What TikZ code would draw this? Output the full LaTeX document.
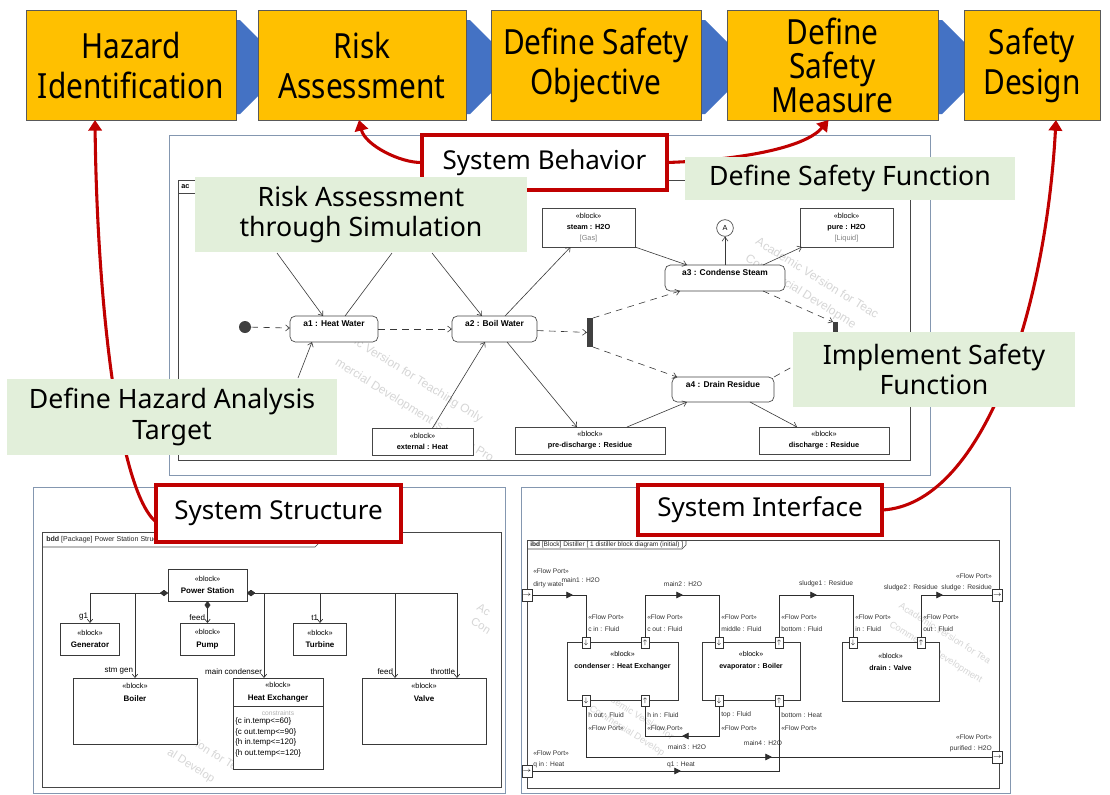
\documentclass[tikz,border=0pt]{standalone}
\usepackage{fontspec}
\setmainfont{Noto Sans}
\newfontfamily\topfont[FakeStretch=0.86]{Noto Sans}
\newfontfamily\umlf{Liberation Sans}
\usetikzlibrary{arrows.meta,decorations.markings,calc}
\definecolor{gold}{HTML}{FFC000}
\definecolor{chev}{HTML}{4472C4}
\definecolor{lgreen}{HTML}{E2EFDA}
\definecolor{dred}{HTML}{C00000}
\definecolor{slate}{HTML}{8497B0}
\tikzset{
 sz/.style 2 args={minimum width=#1*0.75pt, minimum height=#2*0.75pt, inner sep=0pt, outer sep=0pt},
 topbox/.style={draw=gray!70!black, line width=0.6pt, fill=gold, align=center, font=\topfont\fontsize{26}{30}\selectfont},
 greenbox/.style={fill=lgreen, draw=none, align=center, font=\fontsize{20}{23}\selectfont},
 redbox/.style={draw=dred, line width=2.3pt, fill=white, font=\fontsize{19.5}{23}\selectfont},
 redarrow/.style={draw=dred, line width=2.3pt, -{Triangle[length=8pt,width=10pt]}},
 panel/.style={draw=slate, line width=0.6pt},
 uframe/.style={draw=gray!55!black, line width=0.5pt},
 wm/.style={font=\umlf\fontsize{#1}{#1}\selectfont, text=black!16, rotate=-32, anchor=west, inner sep=0pt},
 wm/.default=9,
 tabtxt/.style={font=\umlf\fontsize{5.3}{6}\selectfont, inner sep=0pt, text=black!85},
 act/.style={draw=gray!55!black, line width=0.5pt, rounded corners=4pt, fill=white},
 atxt/.style={font=\umlf\bfseries\fontsize{6.3}{7}\selectfont, inner sep=0pt},
 ablk/.style={draw=gray!55!black, line width=0.5pt, fill=white, align=center, font=\umlf\fontsize{5.5}{8.4}\selectfont},
 initn/.style={circle, fill=black!75, minimum size=9pt, inner sep=0pt},
 forkbar/.style={fill=black!75, draw=none},
 sflow/.style={draw=gray!45!black, line width=0.45pt, -{Straight Barb[length=3pt,width=4.5pt]}},
 cflow/.style={sflow, dash pattern=on 5pt off 4pt},
 sline/.style={draw=gray!45!black, line width=0.45pt},
 bblk/.style={draw=gray!45!black, line width=0.5pt, fill=white, align=center, font=\umlf\fontsize{5.5}{9.5}\selectfont},
 btxt/.style={align=center, font=\umlf\fontsize{5.5}{9.5}\selectfont, inner sep=0pt},
 bl/.style={font=\umlf\fontsize{6}{7}\selectfont, inner sep=0.5pt},
 comp/.style={draw=gray!40!black, line width=0.5pt, {Diamond[length=6pt,width=4.5pt]}-{Straight Barb[length=2.5pt,width=4pt]}},
 iblk/.style={draw=gray!45!black, line width=0.6pt, fill=white},
 itxt/.style={align=center, font=\umlf\fontsize{5.3}{9}\selectfont, inner sep=0pt},
 port/.style={draw=gray!40!black, line width=0.5pt, fill=white, sz={8}{11}, font=\fontsize{5}{5}\selectfont},
 bport/.style={draw=gray!40!black, line width=0.5pt, fill=white, sz={10}{12}, font=\fontsize{5}{5}\selectfont},
 iline/.style={draw=gray!35!black, line width=0.6pt},
 ilab/.style={font=\umlf\fontsize{5}{6}\selectfont, inner sep=0pt, text=black!80},
 midarr/.style={postaction={decorate,decoration={markings,mark=at position #1 with {\arrow{Triangle[length=5pt,width=5pt]}}}}}
}
\begin{document}
\begin{tikzpicture}[x=0.75pt,y=-0.75pt]
\useasboundingbox[fill=white] (0,0) rectangle (1110,794);

% ---------- process chain ----------
\foreach \R in {236,466,701,938} {
  \fill[chev] (\R-3,20) -- (\R+4,20) -- (\R+51,67) -- (\R+4,114) -- (\R-3,114) -- cycle;
}
\node[topbox, sz={210}{110}] (hz) at (131,65) {Hazard\\Identification};
\node[topbox, sz={208}{110}] (ra) at (362,65) {Risk\\Assessment};
\node[topbox, sz={210}{110}] (dso) at (596,65) {Define Safety\\Objective};
\node[topbox, sz={211}{110}, font=\topfont\fontsize{26}{25.5}\selectfont] (dsm) at (832.5,65) {Define\\Safety\\Measure};
\node[topbox, sz={136}{110}] (sd) at (1032,65) {Safety\\Design};

% ---------- activity diagram ----------
\node[wm] (wm1a) at (355,341) {ic Version for Teaching Only};
\node[wm] (wm1b) at (336,362) {mercial Development is strictly Pro};
\node[wm] (wm2a) at (757,240) {Academic Version for Teac};
\node[wm] (wm2b) at (746,258) {Commercial Developme};
\draw[panel] (169,135) rectangle (930,475);
\draw[uframe] (178,180) rectangle (910,460);
\draw[uframe] (178,193) -- (300,193);
\node[anchor=west, font=\umlf\bfseries\fontsize{5.5}{6}\selectfont, inner sep=0pt] (acttab) at (181,186.5) {ac};

\node[initn] (init) at (245,327) {};
\node[act, sz={88}{26}] (a1) at (334,329) {};
\node[atxt, anchor=north] (a1t) at ($(a1.north)+(0,4)$) {a1 : Heat Water};
\node[act, sz={85}{26}] (a2) at (494.5,329) {};
\node[atxt, anchor=north] (a2t) at ($(a2.north)+(0,4)$) {a2 : Boil Water};
\node[forkbar, sz={6}{29}] (fork) at (590,332.5) {};
\node[act, sz={120}{26}] (a3) at (725,278) {};
\node[atxt, anchor=north] (a3t) at ($(a3.north)+(0,4)$) {a3 : Condense Steam};
\node[act, sz={102}{25}] (a4) at (723,389.5) {};
\node[atxt, anchor=north] (a4t) at ($(a4.north)+(0,4)$) {a4 : Drain Residue};
\node[forkbar, sz={5}{22}] (join) at (835.5,333) {};
\node[ablk, sz={93}{39}] (steam) at (588.5,227.5) {«block»\\\textbf{steam : H2O}\\{\color{gray}[Gas]}};
\node[circle, draw=gray!55!black, line width=0.5pt, fill=white, minimum size=12.5pt, inner sep=0pt, font=\umlf\fontsize{5.5}{6}\selectfont] (Acirc) at (725,228) {A};
\node[ablk, sz={93}{39}] (pure) at (846.5,227.5) {«block»\\\textbf{pure : H2O}\\{\color{gray}[Liquid]}};
\node[ablk, sz={101}{27}] (ext) at (422.5,441.5) {«block»\\\textbf{external : Heat}};
\node[ablk, sz={150}{27}] (pre) at (590,440.5) {«block»\\\textbf{pre-discharge : Residue}};
\node[ablk, sz={130}{27}] (dis) at (824,440.5) {«block»\\\textbf{discharge : Residue}};

\coordinate (h1) at (277,253);
\coordinate (h2) at (392,253);
\coordinate (h3) at (432,253);
\coordinate (h4) at (298,378);

\draw[cflow] (init) -- (a1);
\draw[cflow] (a1) -- (a2);
\draw[cflow] (a2) -- (fork);
\draw[cflow] (fork.north east) -- ($(a3.south west)+(15,0)$);
\draw[cflow] (fork.south east) -- ($(a4.north west)+(5,0)$);
\draw[cflow] ($(a3.south east)+(-22,0)$) -- (join.north west);
\draw[cflow] (a4.north east) -- (join.south west);

\draw[sflow] (h1) -- ($(a1.north)+(-11,0)$);
\draw[sline] ($(a1.north)+(11,0)$) -- (h2);
\draw[sflow] (h3) -- ($(a2.north)+(-12.5,0)$);
\draw[sflow] (h4) -- ($(a1.south)+(-22,0)$);
\draw[sflow] ($(ext.north)+(10,0)$) -- ($(a2.south)+(-9.5,0)$);
\draw[sflow] ($(a2.south)+(12.5,0)$) -- ($(pre.north)+(-13,0)$);
\draw[sflow] ($(a2.north)+(10.5,0)$) -- ($(steam.south)+(-18,0)$);
\draw[sflow] (steam.south east) -- ($(a3.north)+(-38,0)$);
\draw[sflow] (a3.north) -- (Acirc.south);
\draw[sflow] ($(a3.north)+(38,0)$) -- ($(pure.south west)+(2,0)$);
\draw[sflow] ($(pre.north)+(37,0)$) -- ($(a4.south)+(-36,0)$);
\draw[sflow] ($(a4.south)+(27,0)$) -- ($(dis.north)+(-27,0)$);

% ---------- bdd ----------
\node[wm=8.5] (wm3a) at (192,740) {sion for Te};
\node[wm=8.5] (wm3b) at (168,752) {al Develop};
\node[wm=8.5] (wm4a) at (478,606) {Ac};
\node[wm=8.5] (wm4b) at (472,620) {Con};
\draw[panel] (33,487) rectangle (505,793);
\draw[uframe] (42,532) rectangle (501,787);
\draw[uframe] (42,547) -- (315,547) -- (320,542) -- (320,532);
\node[anchor=west, tabtxt] (bddtab) at (46,540) {\textbf{bdd} [Package] Power Station Structure [ power station allocation of definition ]};

\node[bblk, sz={79}{32}] (PS) at (207.5,585) {«block»\\\textbf{\fontsize{6}{9.5}\selectfont Power Station}};
\node[bblk, sz={59}{32}] (Gen) at (90,639) {«block»\\\textbf{\fontsize{6}{9.5}\selectfont Generator}};
\node[bblk, sz={54}{32}] (Pump) at (207.5,639) {«block»\\\textbf{\fontsize{6}{9.5}\selectfont Pump}};
\node[bblk, sz={53}{32}] (Turb) at (320,639) {«block»\\\textbf{\fontsize{6}{9.5}\selectfont Turbine}};
\node[bblk, sz={124}{66}] (Boiler) at (135,711) {};
\node[btxt] (Boilert) at (135,692.5) {«block»\\\textbf{\fontsize{6}{9.5}\selectfont Boiler}};
\node[bblk, sz={90}{91}] (HX) at (278,723.5) {};
\node[btxt] (HXt) at (278,692.5) {«block»\\\textbf{\fontsize{6}{9.5}\selectfont Heat Exchanger}};
\draw[draw=gray!45!black, line width=0.5pt] (HX.west |- 0,706) -- (HX.east |- 0,706);
\node[font=\umlf\fontsize{5}{6}\selectfont, text=gray!60, inner sep=0pt] (HXk) at (278,713) {constraints};
\node[anchor=north west, align=left, font=\umlf\fontsize{6}{7.9}\selectfont, inner sep=0pt] (HXc) at (235,717.5) {\{c in.temp<=60\}\\\{c out.temp<=90\}\\\{h in.temp<=120\}\\\{h out.temp<=120\}};
\node[bblk, sz={124}{66}] (Valve) at (424,711) {};
\node[btxt] (Valvet) at (424,692.5) {«block»\\\textbf{\fontsize{6}{9.5}\selectfont Valve}};

\coordinate (psL) at ($(PS.south west)+(0,-8)$);
\coordinate (psR) at ($(PS.south east)+(0,-8)$);
\coordinate (hxIn) at ($(HX.north west)+(31,0)$);
\coordinate (vF) at ($(Valve.north west)+(33,0)$);
\coordinate (vT) at ($(Valve.north west)+(95,0)$);
\draw[comp] (psL) -| (Gen.north);
\draw[comp] (psL) -| (Boiler.north);
\draw[comp] (PS.south) -- (Pump.north);
\draw[comp] (psR) -| (Turb.north);
\draw[comp] (psR) -| (hxIn);
\draw[comp] (psR) -| (vF);
\draw[comp] (psR) -| (vT);
\node[bl, anchor=south east] (lg1) at (89,621) {g1};
\node[bl, anchor=south east] (lstm) at (134,675) {stm gen};
\node[bl, anchor=south east] (lfeed1) at (206,621) {feed};
\node[bl, anchor=south east] (lmc) at (263,675) {main condenser};
\node[bl, anchor=south east] (lt1) at (319,621) {t1};
\node[bl, anchor=south east] (lfeed2) at (394,675) {feed};
\node[bl, anchor=south east] (lthr) at (456,675) {throttle};

% ---------- ibd ----------
\node[wm=7] (wm5a) at (598,690) {Academic Version for};
\node[wm=7] (wm5b) at (590,708) {Commercial Develop};
\node[wm=7] (wm6a) at (900,605) {Academic Version for Tea};
\node[wm=7] (wm6b) at (890,624) {Commercial Development};
\draw[panel] (521,487) rectangle (1010,793);
\draw[uframe] (527,540) rectangle (999,788);
\draw[uframe] (527,549) -- (682,549) -- (686,545) -- (686,540);
\node[anchor=west, tabtxt, font=\umlf\fontsize{4.9}{6}\selectfont] (ibdtab) at (530,544.5) {\textbf{ibd} [Block] Distiller [ 1 distiller block diagram (initial) ]};

\node[iblk, sz={111}{58}] (cond) at (622.5,671) {};
\node[itxt] (condt) at (622.5,661) {«block»\\\textbf{condenser : Heat Exchanger}};
\node[iblk, sz={98}{58}] (evap) at (751,671) {};
\node[itxt] (evapt) at (751,661) {«block»\\\textbf{evaporator : Boiler}};
\node[iblk, sz={97}{59}] (drain) at (890.5,671.5) {};
\node[itxt] (draint) at (890.5,662) {«block»\\\textbf{drain : Valve}};

\node[port] (pCin) at (586,642.5) {$\downarrow$};
\node[port] (pCout) at (645,642.5) {$\uparrow$};
\node[port] (pHout) at (586,700.5) {$\downarrow$};
\node[port] (pHin) at (645,700.5) {$\uparrow$};
\node[port] (pMid) at (719,642.5) {$\downarrow$};
\node[port] (pBotF) at (779,642.5) {$\uparrow$};
\node[port] (pTop) at (719,700.5) {$\downarrow$};
\node[port] (pBotH) at (779,700.5) {$\uparrow$};
\node[port] (pIn) at (853,642.5) {$\downarrow$};
\node[port] (pOut) at (921,642.5) {$\uparrow$};
\node[bport] (pDirty) at (527,595) {$\rightarrow$};
\node[bport] (pQ) at (527,771) {$\rightarrow$};
\node[bport] (pSl) at (997.5,595) {$\rightarrow$};
\node[bport] (pPur) at (997.5,757) {$\rightarrow$};

\draw[iline, midarr=30.75pt] (pDirty.east) -| (pCin.north);
\draw[iline, midarr=60pt] (pCout.north) -- ++(0,-42) -| (pMid.north);
\draw[iline, midarr=60pt] (pBotF.north) -- ++(0,-42) -| (pIn.north);
\draw[iline, midarr=48pt] (pOut.north) |- (pSl.west);
\draw[iline, midarr=50.25pt] (pTop.south) -- ++(0,30) -| (pHin.south);
\draw[iline, midarr=177.75pt] (pHout.south) |- (pPur.west);
\draw[iline, midarr=111.75pt] (pQ.east) -| (pBotH.south);

\node[ilab, anchor=west] (i1) at (533,571) {«Flow Port»};
\node[ilab, anchor=west] (i2) at (533,585) {dirty water};
\node[ilab, anchor=west, fill=white, inner sep=0.3pt] (i3) at (561,580) {main1 : H2O};
\node[ilab] (i4) at (683,584) {main2 : H2O};
\node[ilab] (i5) at (826,584) {sludge1 : Residue};
\node[ilab, anchor=east] (i6) at (938,588) {sludge2 : Residue};
\node[ilab, anchor=east] (i7) at (992,588) {sludge : Residue};
\node[ilab, anchor=east] (i8) at (992,576) {«Flow Port»};
\node[ilab, anchor=west] (i9) at (588,617) {«Flow Port»};
\node[ilab, anchor=west] (i10) at (588,629) {c in : Fluid};
\node[ilab, anchor=west] (i11) at (647,617) {«Flow Port»};
\node[ilab, anchor=west] (i12) at (647,629) {c out : Fluid};
\node[ilab, anchor=west] (i13) at (721,617) {«Flow Port»};
\node[ilab, anchor=west] (i14) at (721,629) {middle : Fluid};
\node[ilab, anchor=west] (i15) at (781,617) {«Flow Port»};
\node[ilab, anchor=west] (i16) at (781,629) {bottom : Fluid};
\node[ilab, anchor=west] (i17) at (855,617) {«Flow Port»};
\node[ilab, anchor=west] (i18) at (855,629) {in : Fluid};
\node[ilab, anchor=west] (i19) at (923,617) {«Flow Port»};
\node[ilab, anchor=west] (i20) at (923,629) {out : Fluid};
\node[ilab, anchor=west] (i21) at (588,715) {h out : Fluid};
\node[ilab, anchor=west] (i22) at (588,728) {«Flow Port»};
\node[ilab, anchor=west] (i23) at (647,715) {h in : Fluid};
\node[ilab, anchor=west] (i24) at (647,728) {«Flow Port»};
\node[ilab, anchor=west] (i25) at (721,715) {top : Fluid};
\node[ilab, anchor=west] (i26) at (721,728) {«Flow Port»};
\node[ilab, anchor=west] (i27) at (781,715) {bottom : Heat};
\node[ilab, anchor=west] (i28) at (781,728) {«Flow Port»};
\node[ilab] (i29) at (687,747) {main3 : H2O};
\node[ilab] (i30) at (763,743) {main4 : H2O};
\node[ilab, anchor=west] (i31) at (533,753) {«Flow Port»};
\node[ilab, anchor=west] (i32) at (533,765) {q in : Heat};
\node[ilab] (i33) at (681,765) {q1 : Heat};
\node[ilab, anchor=east] (i34) at (992,737) {«Flow Port»};
\node[ilab, anchor=east] (i35) at (992,749) {purified : H2O};

% ---------- red labels and curves ----------
\node[redbox, sz={245}{55}] (SB) at (544.5,162.5) {System Behavior};
\node[redbox, sz={245}{57}] (SS) at (278.5,513.5) {System Structure};
\node[redbox, sz={244}{50}] (SI) at (760,510) {System Interface};

\draw[redarrow] (SB.west) .. controls (400,163) and (365,145) .. ($(ra.south)+(-3,0)$);
\draw[redarrow] (SB.east) .. controls (740,160) and (805,148) .. ($(dsm.south)+(-4,0)$);
\draw[redarrow] ($(SS.west)+(0,8.5)$) .. controls (118,490) and (97,300) .. ($(hz.south)+(-36,0)$);
\draw[redarrow] (SI.east) .. controls (980,505) and (1045,320) .. ($(sd.south)+(24,0)$);

% ---------- green annotations ----------
\node[greenbox, sz={332}{75}] (gRisk) at (361,214.5) {Risk Assessment\\through Simulation};
\node[greenbox, sz={330}{43}] (gDSF) at (850,178.5) {Define Safety Function};
\node[greenbox, sz={282}{75}] (gISF) at (934,369.5) {Implement Safety\\Function};
\node[greenbox, sz={330}{76}] (gDHA) at (172,417) {Define Hazard Analysis\\Target};
\end{tikzpicture}
\end{document}
